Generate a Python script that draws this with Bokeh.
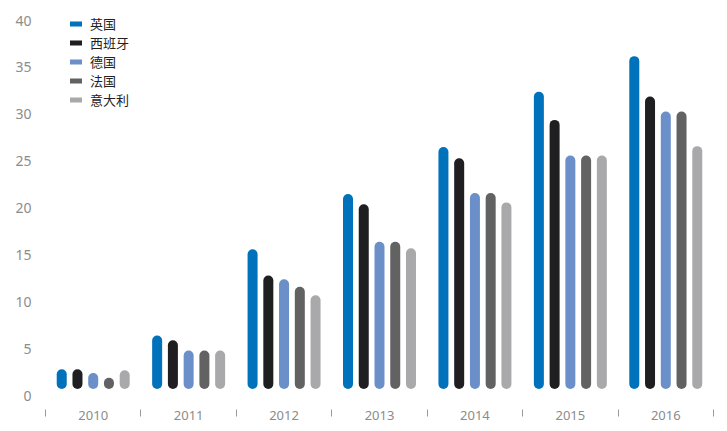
from bokeh.plotting import figure
from bokeh.models import Range1d, FixedTicker, Legend, LegendItem, ColumnDataSource
from bokeh.embed import file_html
from bokeh.resources import INLINE

years = ["2010", "2011", "2012", "2013", "2014", "2015", "2016"]
series_names = ["英国", "西班牙", "德国", "法国", "意大利"]
uk = [2.8, 6.4, 15.6, 21.5, 26.5, 32.4, 36.2]
spain = [2.8, 5.9, 12.8, 20.4, 25.3, 29.4, 31.9]
germany = [2.4, 4.8, 12.4, 16.4, 21.6, 25.6, 30.3]
france = [1.9, 4.8, 11.6, 16.4, 21.6, 25.6, 30.3]
italy = [2.7, 4.8, 10.7, 15.7, 20.6, 25.6, 26.6]
y_ticks = [0, 5, 10, 15, 20, 25, 30, 35, 40]

colors = ["#0071bb", "#1f1f21", "#6b8fc9", "#626262", "#a9a9ab"]
series = [uk, spain, germany, france, italy]
offsets = [-0.33, -0.165, 0.0, 0.165, 0.33]

px_per_unit = 9.375
bar_w = 10
cap = (bar_w / 2) / px_per_unit
base = 0.7 + cap

p = figure(width=727, height=431, output_backend="svg", toolbar_location=None,
           x_range=Range1d(0, 7), y_range=Range1d(-1.49, 41.07),
           min_border_left=45, min_border_right=14, min_border_top=10, min_border_bottom=22)
p.outline_line_color = None
p.grid.grid_line_color = None
p.background_fill_color = "white"

for vals, col, off in zip(series, colors, offsets):
    xs = [i + 0.5 + off for i in range(len(years))]
    top = [max(v - cap, base) for v in vals]
    src = ColumnDataSource(dict(x=xs, y0=[base] * len(vals), y1=top))
    p.segment(x0="x", y0="y0", x1="x", y1="y1", source=src, line_color=col,
              line_width=bar_w, line_cap="round")

# legend renderers (not drawn in the plot area: NaN data)
items = []
nan = float("nan")
for name, col in zip(series_names, colors):
    r = p.line(x=[nan, nan], y=[nan, nan], line_color=col, line_width=5, line_cap="round")
    items.append(LegendItem(label=name, renderers=[r]))
legend = Legend(items=items, location=(25, 300), padding=0, spacing=0,
                glyph_width=12, glyph_height=19, label_height=19, label_standoff=8,
                label_text_font="Noto Sans CJK SC", label_text_font_size="13px",
                label_text_color="#222222", background_fill_alpha=0, border_line_color=None)
p.add_layout(legend)

# y axis
p.yaxis.ticker = FixedTicker(ticks=y_ticks)
p.yaxis.axis_line_color = None
p.yaxis.major_tick_line_color = None
p.yaxis.minor_tick_line_color = None
p.yaxis.major_label_standoff = 8
p.yaxis.major_label_text_font = "Noto Sans"
p.yaxis.major_label_text_font_size = "14px"
p.yaxis.major_label_text_color = "#8c8c8c"

# x axis
p.xaxis.ticker = FixedTicker(ticks=[i + 0.5 for i in range(len(years))],
                             minor_ticks=list(range(len(years) + 1)))
p.xaxis.major_label_overrides = {i + 0.5: y for i, y in enumerate(years)}
p.xaxis.axis_line_color = None
p.xaxis.major_tick_line_color = None
p.xaxis.major_tick_out = 0
p.xaxis.major_tick_in = 0
p.xaxis.minor_tick_out = 7
p.xaxis.minor_tick_in = 0
p.xaxis.minor_tick_line_color = "#9a9a9a"
p.xaxis.minor_tick_line_width = 1
p.xaxis.major_label_standoff = -6
p.xaxis.major_label_text_font = "Noto Sans"
p.xaxis.major_label_text_font_size = "13px"
p.xaxis.major_label_text_color = "#8c8c8c"

open("out.html", "w").write(file_html(p, INLINE))
